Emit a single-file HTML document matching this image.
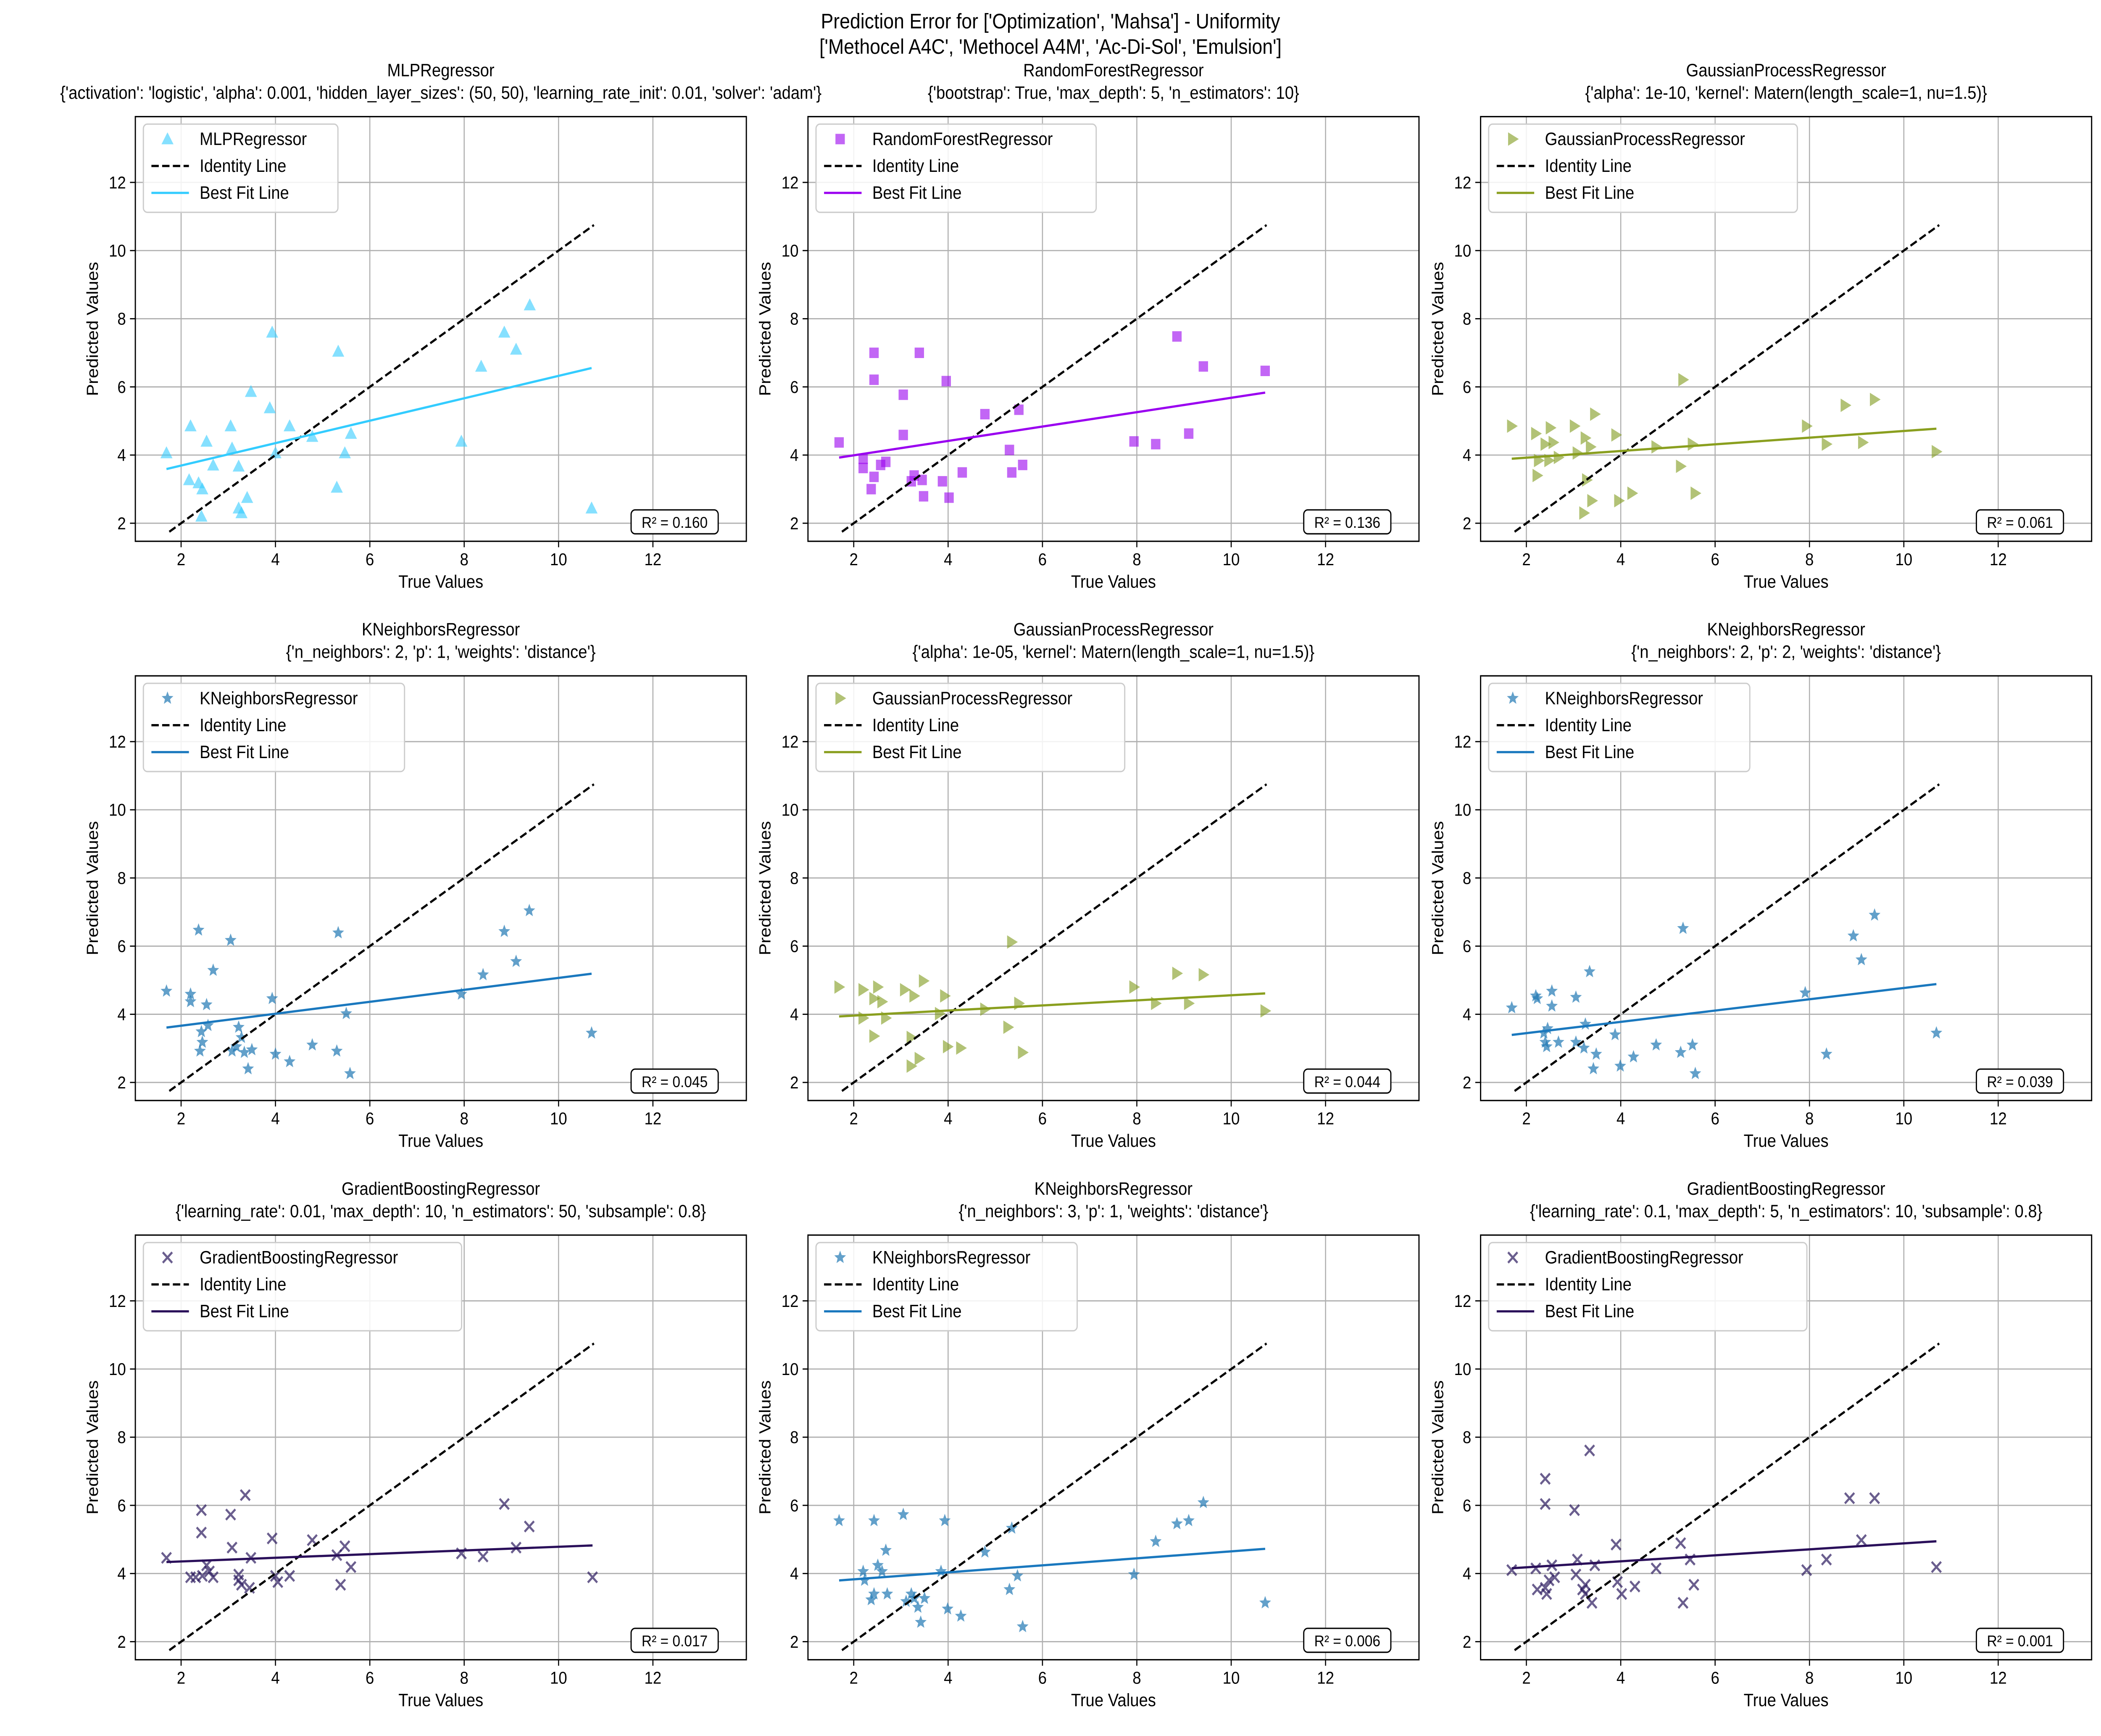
<!DOCTYPE html>
<html><head><meta charset="utf-8">
<style>
html,body{margin:0;padding:0;background:#fff;overflow:hidden;width:100vw;height:100vh;}
svg{display:block;width:100vw;height:100vh;font-family:"Liberation Sans","DejaVu Sans",sans-serif;}
</style></head>
<body>
<svg id="fig" viewBox="0 0 1568 1161" preserveAspectRatio="none" xmlns="http://www.w3.org/2000/svg">
<rect width="1568" height="1161" fill="#fff"/>
<text x="784" y="19" text-anchor="middle" font-size="14">Prediction Error for ['Optimization', 'Mahsa'] - Uniformity</text>
<text x="784" y="36" text-anchor="middle" font-size="14">['Methocel A4C', 'Methocel A4M', 'Ac-Di-Sol', 'Emulsion']</text>
</svg>
<script>
const panelNames = ["MLPRegressor","RandomForestRegressor","GaussianProcessRegressor","KNeighborsRegressor","GaussianProcessRegressor","KNeighborsRegressor","GradientBoostingRegressor","KNeighborsRegressor","GradientBoostingRegressor"];
const panelParams = ["{'activation': 'logistic', 'alpha': 0.001, 'hidden_layer_sizes': (50, 50), 'learning_rate_init': 0.01, 'solver': 'adam'}","{'bootstrap': True, 'max_depth': 5, 'n_estimators': 10}","{'alpha': 1e-10, 'kernel': Matern(length_scale=1, nu=1.5)}","{'n_neighbors': 2, 'p': 1, 'weights': 'distance'}","{'alpha': 1e-05, 'kernel': Matern(length_scale=1, nu=1.5)}","{'n_neighbors': 2, 'p': 2, 'weights': 'distance'}","{'learning_rate': 0.01, 'max_depth': 10, 'n_estimators': 50, 'subsample': 0.8}","{'n_neighbors': 3, 'p': 1, 'weights': 'distance'}","{'learning_rate': 0.1, 'max_depth': 5, 'n_estimators': 10, 'subsample': 0.8}"];
const r2Labels = ["0.160","0.136","0.061","0.045","0.044","0.039","0.017","0.006","0.001"];
const xTicks = [2,4,6,8,10,12];
const yTicks = [2,4,6,8,10,12];
const identityRange = [1.75,10.75];
const trueP1=[1.69,2.2,2.17,2.37,2.45,2.43,2.54,2.68,3.05,3.08,3.22,3.22,3.28,3.4,3.48,3.93,3.88,4.0,4.3,4.78,5.33,5.3,5.47,5.6,7.94,8.36,8.85,9.1,9.39,10.7];
const predP1=[4.06,4.85,3.27,3.18,3.0,2.2,4.4,3.7,4.85,4.2,3.67,2.44,2.3,2.75,5.86,7.6,5.38,4.06,4.85,4.54,7.04,3.05,4.06,4.63,4.4,6.6,7.6,7.1,8.4,2.44];
const trueP2=[1.69,2.2,2.2,2.37,2.43,2.43,2.43,2.57,2.68,3.05,3.05,3.22,3.28,3.39,3.45,3.48,3.88,3.96,4.02,4.3,4.78,5.3,5.35,5.5,5.58,7.94,8.4,8.85,9.1,9.41,10.72];
const predP2=[4.37,3.89,3.62,3.0,3.36,7.0,6.21,3.71,3.8,5.77,4.59,3.23,3.4,7.0,3.27,2.79,3.23,6.17,2.75,3.49,5.2,4.15,3.49,5.33,3.71,4.4,4.32,7.48,4.63,6.6,6.47];
const trueP3=[1.69,2.2,2.23,2.26,2.4,2.51,2.48,2.57,2.68,3.02,3.08,3.25,3.22,3.28,3.36,3.39,3.45,3.9,3.96,4.24,4.75,5.32,5.27,5.52,5.58,7.94,8.36,8.76,9.13,9.38,10.69];
const predP3=[4.85,4.63,3.4,3.84,4.32,4.8,3.84,4.37,3.93,4.85,4.06,4.5,2.3,3.27,4.24,2.66,5.2,4.59,2.66,2.88,4.24,6.21,3.67,4.32,2.88,4.85,4.32,5.46,4.37,5.63,4.1];
const trueP4=[1.69,2.2,2.2,2.37,2.43,2.45,2.4,2.57,2.68,2.54,3.05,3.08,3.17,3.22,3.28,3.34,3.42,3.5,3.93,4.0,4.3,4.78,5.33,5.3,5.5,5.58,7.94,8.4,8.85,9.1,9.38,10.7];
const predP4=[4.68,4.59,4.37,6.47,3.49,3.18,2.92,3.67,5.29,4.28,6.17,2.92,3.05,3.62,3.32,2.88,2.4,2.96,4.46,2.83,2.61,3.1,6.39,2.92,4.02,2.26,4.59,5.16,6.43,5.55,7.04,3.45];
const trueP5=[1.69,2.2,2.2,2.43,2.43,2.51,2.6,2.68,3.08,3.22,3.22,3.28,3.39,3.48,3.82,3.93,3.99,4.27,4.78,5.27,5.35,5.5,5.58,7.94,8.4,8.85,9.1,9.41,10.72];
const predP5=[4.8,4.72,3.89,3.36,4.46,4.8,4.37,3.89,4.72,3.32,2.48,4.54,2.7,4.98,4.02,4.54,3.05,3.01,4.15,3.62,6.12,4.32,2.88,4.8,4.32,5.2,4.32,5.16,4.1];
const trueP6=[1.69,2.2,2.23,2.37,2.4,2.43,2.45,2.54,2.54,2.68,3.05,3.05,3.25,3.22,3.34,3.42,3.48,3.88,3.99,4.27,4.75,5.27,5.32,5.52,5.58,7.91,8.36,8.93,9.1,9.38,10.69];
const predP6=[4.19,4.54,4.46,3.45,3.18,3.05,3.58,4.68,4.24,3.18,4.5,3.18,3.71,3.01,5.25,2.4,2.83,3.4,2.48,2.75,3.1,2.88,6.52,3.1,2.26,4.63,2.83,6.3,5.6,6.91,3.45];
const trueP7=[1.69,2.2,2.31,2.43,2.43,2.45,2.54,2.6,2.68,3.05,3.08,3.22,3.22,3.28,3.36,3.45,3.48,3.93,4.0,4.05,4.3,4.78,5.3,5.38,5.47,5.6,7.94,8.4,8.85,9.1,9.38,10.72];
const predP7=[4.46,3.89,3.89,5.86,5.2,3.93,4.24,4.06,3.89,5.73,4.76,3.97,3.8,3.67,6.3,3.58,4.46,5.03,3.93,3.75,3.93,4.98,4.54,3.67,4.8,4.19,4.59,4.5,6.04,4.76,5.38,3.89];
const trueP8=[1.69,2.2,2.23,2.37,2.43,2.43,2.51,2.6,2.68,2.71,3.05,3.11,3.22,3.28,3.36,3.42,3.5,3.85,3.93,3.99,4.27,4.78,5.3,5.35,5.47,5.58,7.94,8.4,8.85,9.1,9.41,10.72];
const predP8=[5.55,4.06,3.8,3.23,5.55,3.4,4.24,4.06,4.68,3.4,5.73,3.18,3.4,3.27,3.01,2.57,3.27,4.06,5.55,2.96,2.75,4.63,3.53,5.33,3.93,2.44,3.97,4.94,5.46,5.55,6.08,3.14];
const trueP9=[1.69,2.2,2.23,2.4,2.4,2.4,2.43,2.48,2.54,2.6,3.02,3.08,3.05,3.19,3.25,3.25,3.34,3.39,3.45,3.9,3.93,4.02,4.3,4.75,5.27,5.32,5.47,5.55,7.94,8.36,8.85,9.1,9.38,10.69];
const predP9=[4.1,4.15,3.53,3.58,6.78,6.04,3.4,3.8,4.24,3.89,5.86,4.41,3.97,3.53,3.67,3.4,7.61,3.14,4.24,4.85,3.75,3.4,3.62,4.15,4.89,3.14,4.41,3.67,4.1,4.41,6.21,4.98,6.21,4.19];
const trueAll=[trueP1,trueP2,trueP3,trueP4,trueP5,trueP6,trueP7,trueP8,trueP9];
const predAll=[predP1,predP2,predP3,predP4,predP5,predP6,predP7,predP8,predP9];

const NS="http://www.w3.org/2000/svg";
const fig=document.getElementById('fig');
const lefts=[101,603,1105], tops=[78,452,826], W=456, H=284;
const XMIN=1.03,XMAX=13.98,YMIN=1.47,YMAX=13.93;
const styles=[
 {m:'tri',c:'#33ccff',l:'#33ccff'},{m:'sq',c:'#9900ee',l:'#9a00f0'},{m:'tri-r',c:'#7f9a1a',l:'#8a9f1f'},
 {m:'star',c:'#1f77b4',l:'#1a78be'},{m:'tri-r',c:'#7f9a1a',l:'#8a9f1f'},{m:'star',c:'#1f77b4',l:'#1a78be'},
 {m:'x',c:'#2b1a5e',l:'#2a0f5a'},{m:'star',c:'#1f77b4',l:'#1a78be'},{m:'x',c:'#2b1a5e',l:'#2a0f5a'}];
function el(tag,attrs,parent){const e=document.createElementNS(NS,tag);for(const k in attrs)e.setAttribute(k,attrs[k]);(parent||fig).appendChild(e);return e;}
function marker(g,type,x,y,c){
  let e;
  if(type==='tri'){e=el('polygon',{points:`${x},${y-4.5} ${x-4.5},${y+3.5} ${x+4.5},${y+3.5}`,fill:c,'fill-opacity':0.6},g);}
  else if(type==='tri-r'){e=el('polygon',{points:`${x+4.5},${y} ${x-3.5},${y-4.5} ${x-3.5},${y+4.5}`,fill:c,'fill-opacity':0.6},g);}
  else if(type==='sq'){e=el('rect',{x:x-3.5,y:y-3.5,width:7,height:7,fill:c,'fill-opacity':0.6},g);}
  else if(type==='star'){let p=[];for(let i=0;i<10;i++){const r=i%2?2:4.6,a=-Math.PI/2+i*Math.PI/5;p.push((x+r*Math.cos(a)).toFixed(2)+','+(y+r*Math.sin(a)).toFixed(2));}e=el('polygon',{points:p.join(' '),fill:c,'fill-opacity':0.7},g);}
  else {e=el('path',{d:`M${x-3.5},${y-3.5}L${x+3.5},${y+3.5}M${x-3.5},${y+3.5}L${x+3.5},${y-3.5}`,stroke:c,'stroke-width':1.5,'stroke-opacity':0.7,fill:'none'},g);}
  return e;
}
for(let i=0;i<9;i++){
  const L=lefts[i%3],T=tops[Math.floor(i/3)],st=styles[i];
  const sx=v=>L+(v-XMIN)/(XMAX-XMIN)*W, sy=v=>T+H-(v-YMIN)/(YMAX-YMIN)*H;
  const g=el('g',{});
  
  
  const t1=el('text',{x:L+W/2,y:T-27,'text-anchor':'middle','font-size':12},g);t1.textContent=panelNames[i];
  
  
  const t2=el('text',{x:L+W/2,y:T-12,'text-anchor':'middle','font-size':12},g);t2.textContent=panelParams[i];
  
  
  xTicks.forEach(v=>{const x=sx(v);el('line',{x1:x,x2:x,y1:T,y2:T+H,stroke:'#b0b0b0','stroke-width':0.8},g);el('line',{x1:x,x2:x,y1:T+H,y2:T+H+4,stroke:'#000','stroke-width':0.8},g);
    const tx=el('text',{x:x,y:T+H+16,'text-anchor':'middle','font-size':11.5},g);tx.textContent=v;
    
    });
  yTicks.forEach(v=>{const y=sy(v);el('line',{x1:L,x2:L+W,y1:y,y2:y,stroke:'#b0b0b0','stroke-width':0.8},g);el('line',{x1:L-4,x2:L,y1:y,y2:y,stroke:'#000','stroke-width':0.8},g);
    const ty=el('text',{x:L-7,y:y+4,'text-anchor':'end','font-size':11.5},g);ty.textContent=v;
    
    });
  const xl=el('text',{x:L+W/2,y:T+H+31,'text-anchor':'middle','font-size':12},g);xl.textContent='True Values';
  
  
  const yl=el('text',{x:0,y:0,'text-anchor':'middle','font-size':12,transform:`translate(${L-28},${T+H/2}) rotate(-90)`},g);yl.textContent='Predicted Values';
  
  
  const xs=trueAll[i],ys=predAll[i];
  xs.forEach((v,k)=>{const m=marker(g,st.m,sx(v),sy(ys[k]),st.c);
    
    });
  const id=el('line',{x1:sx(identityRange[0]),y1:sy(identityRange[0]),x2:sx(identityRange[1]),y2:sy(identityRange[1]),stroke:'#000','stroke-width':1.5,'stroke-dasharray':'5.5,2.5'},g);
  
  
  const n=xs.length,mx=xs.reduce((a,b)=>a+b)/n,my=ys.reduce((a,b)=>a+b)/n;
  let sxy=0,sxx=0;xs.forEach((v,k)=>{sxy+=(v-mx)*(ys[k]-my);sxx+=(v-mx)*(v-mx);});
  const b=sxy/sxx,a=my-b*mx,x0=Math.min(...xs),x1=Math.max(...xs);
  const fl=el('line',{x1:sx(x0),y1:sy(a+b*x0),x2:sx(x1),y2:sy(a+b*x1),stroke:st.l,'stroke-width':1.5},g);
  
  
  el('rect',{x:L,y:T,width:W,height:H,fill:'none',stroke:'#000','stroke-width':0.9},g);
  const lw=panelNames[i].length*7.1+60;
  const lg=el('g',{},g);
  
  
  el('rect',{x:L+6,y:T+5,width:lw,height:59,rx:3,fill:'#fff','fill-opacity':0.85,stroke:'#ccc','stroke-width':0.9},lg);
  marker(lg,st.m,L+24,T+15,st.c);
  el('line',{x1:L+12,x2:L+40,y1:T+33,y2:T+33,stroke:'#000','stroke-width':1.5,'stroke-dasharray':'5.5,2.5'},lg);
  el('line',{x1:L+12,x2:L+40,y1:T+51,y2:T+51,stroke:st.l,'stroke-width':1.5},lg);
  [panelNames[i],'Identity Line','Best Fit Line'].forEach((s,k)=>{const t=el('text',{x:L+48,y:T+19+18*k,'font-size':12},lg);t.textContent=s;});
  const rb=el('g',{},g);
  
  
  el('rect',{x:L+W-86,y:T+H-21,width:65,height:16,rx:3,fill:'#fff',stroke:'#000','stroke-width':0.9},rb);
  const rt=el('text',{x:L+W-53.5,y:T+H-9,'text-anchor':'middle','font-size':10.5},rb);rt.textContent='R² = '+r2Labels[i];
}
</script>
</body></html>
